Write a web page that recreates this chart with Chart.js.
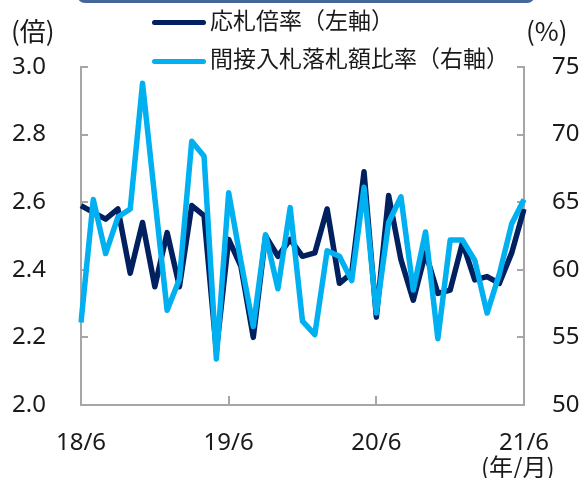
<!DOCTYPE html>
<html lang="ja">
<head>
<meta charset="utf-8">
<script src="https://cdn.jsdelivr.net/npm/chart.js@4/dist/chart.umd.min.js"></script>
<style>
  html, body { margin: 0; padding: 0; background: #fff; overflow: hidden; }
  #wrap { position: relative; width: 583px; height: 478px; }
  #wrap canvas { position: absolute; left: 0; top: 0; }
  .txt { position: absolute; font-family: 'Noto Sans CJK JP', 'Noto Sans', sans-serif; font-size: 23px; color: #1a1a1a; white-space: nowrap; line-height: 1; }
  .swatch { position: absolute; height: 5px; border-radius: 3px; }
  #titlebox { position: absolute; left: 77px; top: -27px; width: 452px; height: 24px; border: 3px solid #45669b; border-radius: 8px; }
</style>
</head>
<body>
<div id="wrap">
  <canvas id="bidChart" width="583" height="478"></canvas>
  <div id="titlebox"></div>
  <div class="swatch" style="left:152px; top:20px; width:54px; background:#002060"></div>
  <div class="txt" style="left:210px; top:8px">応札倍率（左軸）</div>
  <div class="swatch" style="left:152px; top:59px; width:54px; background:#00b0f0"></div>
  <div class="txt" style="left:210px; top:46px">間接入札落札額比率（右軸）</div>
  <div class="txt" style="left:11px; top:17px; font-size:26px">(倍)</div>
  <div class="txt" style="left:526px; top:17px; font-size:26px">(%)</div>
  <div class="txt" style="left:481px; top:454px; font-size:24px">(年/月)</div>
</div>
<script>
// monthly, 2018/6 .. 2021/6
const months = [
    '18/6', '18/7', '18/8', '18/9', '18/10', '18/11', '18/12',
    '19/1', '19/2', '19/3', '19/4', '19/5', '19/6', '19/7', '19/8', '19/9', '19/10', '19/11', '19/12',
    '20/1', '20/2', '20/3', '20/4', '20/5', '20/6', '20/7', '20/8', '20/9', '20/10', '20/11', '20/12',
    '21/1', '21/2', '21/3', '21/4', '21/5', '21/6',
];
const labeledMonths = ['18/6', '19/6', '20/6', '21/6'];

// 応札倍率 (left axis, times)
const bidRatio = [
    2.59, 2.57, 2.55, 2.58, 2.39, 2.54, 2.35,
    2.51, 2.35, 2.59, 2.56, 2.16, 2.49, 2.41, 2.20, 2.50, 2.44, 2.49, 2.44,
    2.45, 2.58, 2.36, 2.39, 2.69, 2.26, 2.62, 2.43, 2.31, 2.45, 2.33, 2.34,
    2.48, 2.37, 2.38, 2.36, 2.45, 2.58,
];

// 間接入札落札額比率 (right axis, %)
const indirectShare = [
    56.1, 65.2, 61.2, 63.9, 64.5, 73.8, 65.3,
    57.0, 59.3, 69.5, 68.4, 53.4, 65.7, 60.6, 55.8, 62.6, 58.6, 64.6, 56.2,
    55.2, 61.4, 61.0, 59.2, 66.1, 56.8, 63.5, 65.4, 58.5, 62.8, 54.9, 62.2,
    62.2, 60.7, 56.8, 59.7, 63.4, 65.2,
];

const AXIS = '#a6a6a6';
const INK = '#1a1a1a';
const NUM_FONT = { family: "'Noto Sans', 'Noto Sans CJK JP', sans-serif", size: 24 };

// Ticks in the reference point inward from the axis lines, which Chart.js
// doesn't do on its own, so they're stroked from the scales here.
const innerTicks = {
    id: 'innerTicks',
    beforeDatasetsDraw(chart) {
        const { ctx, chartArea: a, scales: { x, y, y1 } } = chart;
        ctx.save();
        ctx.strokeStyle = AXIS;
        ctx.lineWidth = 2;
        ctx.beginPath();
        y.ticks.forEach(t => {
            const py = Math.round(y.getPixelForValue(t.value));
            ctx.moveTo(a.left, py); ctx.lineTo(a.left + 7, py);
        });
        y1.ticks.forEach(t => {
            const py = Math.round(y1.getPixelForValue(t.value));
            ctx.moveTo(a.right, py); ctx.lineTo(a.right - 7, py);
        });
        labeledMonths.slice(1, -1).forEach(m => {
            const px = Math.round(x.getPixelForValue(months.indexOf(m)));
            ctx.moveTo(px, a.bottom); ctx.lineTo(px, a.bottom - 9);
        });
        ctx.stroke();
        ctx.restore();
    },
};

new Chart(document.getElementById('bidChart'), {
    type: 'line',
    data: {
        labels: months,
        datasets: [
            {
                label: '応札倍率（左軸）',
                data: bidRatio,
                yAxisID: 'y',
                borderColor: '#002060',
                borderWidth: 5.5,
                order: 2,
            },
            {
                label: '間接入札落札額比率（右軸）',
                data: indirectShare,
                yAxisID: 'y1',
                borderColor: '#00b0f0',
                borderWidth: 5.5,
                order: 1,
            },
        ],
    },
    options: {
        responsive: false,
        animation: false,
        devicePixelRatio: 1,
        layout: { padding: { top: 67, left: 0, right: 0, bottom: 0 } },
        elements: {
            point: { radius: 0, hoverRadius: 0 },
            line: { tension: 0, borderJoinStyle: 'round', borderCapStyle: 'butt', fill: false },
        },
        plugins: { legend: { display: false }, tooltip: { enabled: false } },
        scales: {
            x: {
                offset: false,
                grid: { drawOnChartArea: false, drawTicks: false },
                border: { color: AXIS, width: 2 },
                ticks: {
                    autoSkip: false, maxRotation: 0, padding: 24, color: INK, font: NUM_FONT,
                    callback: (v, i) => (labeledMonths.includes(months[i]) ? months[i] : ''),
                },
                afterFit: s => { s.height = 73; },
            },
            y: {
                position: 'left',
                min: 2.0, max: 3.0,
                grid: { drawOnChartArea: false, drawTicks: false },
                border: { color: AXIS, width: 2 },
                ticks: { stepSize: 0.2, padding: 35, color: INK, font: NUM_FONT, callback: v => v.toFixed(1) },
                afterFit: s => { s.width = 81; },
            },
            y1: {
                position: 'right',
                min: 50, max: 75,
                grid: { drawOnChartArea: false, drawTicks: false },
                border: { color: AXIS, width: 2 },
                ticks: { stepSize: 5, padding: 28, color: INK, font: NUM_FONT },
                afterFit: s => { s.width = 59; },
            },
        },
    },
    plugins: [innerTicks],
});
</script>
</body>
</html>
